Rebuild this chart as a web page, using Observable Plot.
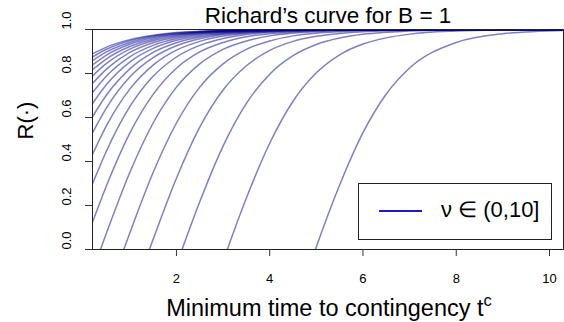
<!DOCTYPE html>
<html>
<head>
<meta charset="utf-8">
<script src="https://cdn.jsdelivr.net/npm/d3@7"></script>
<script src="https://cdn.jsdelivr.net/npm/@observablehq/plot@0.6"></script>
<style>
  html, body { margin: 0; padding: 0; background: white; }
  #wrap { position: relative; width: 564px; height: 322px; font-family: "Liberation Sans", Arial, sans-serif; }
  #legend { position: absolute; left: 358px; top: 183px; width: 194px; height: 57px; box-sizing: border-box; border: 1px solid #222; background: white; }
  #legend .ln { position: absolute; left: 20px; top: 26px; width: 43px; height: 2px; background: #1a1ac8; }
  #legend .tx { position: absolute; left: 82px; top: 13px; font-size: 22px; line-height: 26px; color: #000; white-space: nowrap; }
</style>
</head>
<body>
<div id="wrap"></div>
<script>
// time grid (minimum time to contingency)
const tGrid = [0.2, 0.5, 1, 1.5, 2, 2.5, 3, 3.5, 4, 4.5, 5, 5.5, 6, 6.5, 7, 8, 9, 10.3];
// where the lower curves rise through R = 0
const zeroCross = [4.98, 3.09, 2.12, 1.42, 0.87, 0.37];
// R values of each curve on tGrid (null = below the axis)
const r01 = [null,null,null,null,null,null,null,null,null,null,0.012,0.293,0.531,0.707,0.825,0.941,0.981,0.996];
const r02 = [null,null,null,null,null,null,null,0.234,0.483,0.674,0.803,0.885,0.934,0.962,0.979,0.993,0.998,1];
const r03 = [null,null,null,null,null,0.217,0.470,0.664,0.797,0.881,0.932,0.961,0.978,0.987,0.993,0.998,1,1];
const r04 = [null,null,null,0.046,0.324,0.556,0.725,0.835,0.905,0.946,0.969,0.982,0.990,0.994,0.997,0.999,1,1];
const r05 = [null,null,0.075,0.350,0.575,0.738,0.844,0.910,0.948,0.971,0.983,0.990,0.995,0.997,0.998,1,1,1];
const r06 = [null,0.075,0.350,0.575,0.738,0.844,0.910,0.948,0.971,0.983,0.990,0.995,0.997,0.998,0.999,1,1,1];
const r07 = [0.124,0.290,0.529,0.705,0.824,0.898,0.941,0.967,0.981,0.989,0.994,0.996,0.998,0.999,0.9994,1,1,1];
const r08 = [0.299,0.448,0.649,0.787,0.875,0.928,0.959,0.977,0.987,0.992,0.996,0.998,0.999,0.9993,1,1,1,1];
const r09 = [0.432,0.563,0.729,0.838,0.906,0.946,0.970,0.983,0.990,0.995,0.997,0.998,0.999,0.9995,1,1,1,1];
const r10 = [0.530,0.644,0.784,0.872,0.926,0.958,0.977,0.986,0.992,0.996,0.998,0.999,0.9993,1,1,1,1,1];
const r11 = [0.603,0.702,0.821,0.896,0.940,0.966,0.981,0.989,0.994,0.996,0.998,0.999,1,1,1,1,1,1];
const r12 = [0.663,0.750,0.852,0.914,0.951,0.972,0.984,0.991,0.995,0.997,0.998,0.999,1,1,1,1,1,1];
const r13 = [0.713,0.789,0.876,0.928,0.959,0.977,0.987,0.992,0.996,0.998,0.999,1,1,1,1,1,1,1];
const r14 = [0.755,0.820,0.896,0.940,0.966,0.981,0.989,0.994,0.997,0.998,0.999,1,1,1,1,1,1,1];
const r15 = [0.789,0.846,0.911,0.949,0.971,0.984,0.991,0.995,0.997,0.998,0.999,1,1,1,1,1,1,1];
const r16 = [0.817,0.867,0.923,0.956,0.975,0.986,0.992,0.996,0.998,0.999,0.9993,1,1,1,1,1,1,1];
const r17 = [0.839,0.884,0.933,0.962,0.979,0.988,0.993,0.996,0.998,0.999,1,1,1,1,1,1,1,1];
const r18 = [0.859,0.898,0.941,0.967,0.981,0.989,0.994,0.997,0.998,0.999,1,1,1,1,1,1,1,1];
const r19 = [0.875,0.910,0.949,0.971,0.984,0.991,0.995,0.997,0.999,0.9993,1,1,1,1,1,1,1,1];
const r20 = [0.889,0.920,0.954,0.974,0.986,0.992,0.996,0.998,0.999,0.9995,1,1,1,1,1,1,1,1];
const xTicks = [2, 4, 6, 8, 10];
const yTicks = [0, 0.2, 0.4, 0.6, 0.8, 1.0];
const titleText = "Richard\u2019s curve for B = 1";
const xLabel = "Minimum time to contingency t";
const xLabelSup = "c";
const yLabel = "R(\u00b7)";
const legendText = "\u03bd \u2208 (0,10]";

const series = [r01,r02,r03,r04,r05,r06,r07,r08,r09,r10,r11,r12,r13,r14,r15,r16,r17,r18,r19,r20];
const data = [];
series.forEach((vals, i) => {
  if (zeroCross[i] != null) data.push({curve: i, t: zeroCross[i], r: 0});
  vals.forEach((v, j) => { if (v != null) data.push({curve: i, t: tGrid[j], r: v}); });
});

const chart = Plot.plot({
  width: 564, height: 322,
  marginLeft: 92, marginRight: 1, marginTop: 29, marginBottom: 73,
  x: {domain: [0.2, 10.3]},
  y: {domain: [0, 1]},
  style: {fontFamily: "'Liberation Sans', Arial, sans-serif", background: "white", color: "black"},
  marks: [
    Plot.line(data, {x: "t", y: "r", z: "curve", stroke: "#00008b", strokeOpacity: 0.5, strokeWidth: 1.5, curve: "monotone-x", clip: true}),
    Plot.frame({stroke: "#222", strokeWidth: 1}),
    Plot.axisX({ticks: xTicks, tickSize: 7, tickFormat: () => "", label: null, stroke: "#333"}),
    Plot.axisY({ticks: yTicks, tickSize: 7, tickFormat: () => "", label: null, stroke: "#333"}),
    Plot.text(xTicks, {x: d => d, text: d => String(d), frameAnchor: "bottom", dy: 33.7, lineAnchor: "bottom", fontSize: 13, fill: "black"}),
    Plot.text(yTicks, {y: d => d, text: d => d.toFixed(1), frameAnchor: "left", dx: -21.3, rotate: -90, lineAnchor: "bottom", fontSize: 13, fill: "black"}),
    Plot.text([titleText], {frameAnchor: "top", dy: -6.3, lineAnchor: "bottom", fontSize: 22.5, fill: "black"}),
    Plot.text([xLabel], {frameAnchor: "bottom", dx: 1, dy: 66, lineAnchor: "bottom", fontSize: 23.5, fill: "black"}),
    Plot.text([yLabel], {frameAnchor: "left", dx: -60, rotate: -90, lineAnchor: "bottom", fontSize: 22, fill: "black"})
  ]
});

// superscript c on the x label
d3.select(chart).selectAll("text").filter(function() { return this.textContent === xLabel; }).each(function() {
  const t = d3.select(this);
  t.text(null);
  t.append("tspan").text(xLabel);
  t.append("tspan").attr("dy", "-0.55em").attr("font-size", "0.7em").text(xLabelSup);
});

const wrap = document.getElementById("wrap");
wrap.appendChild(chart);
const legend = document.createElement("div");
legend.id = "legend";
legend.innerHTML = '<div class="ln"></div><div class="tx"></div>';
legend.querySelector(".tx").textContent = legendText;
wrap.appendChild(legend);
</script>
</body>
</html>
